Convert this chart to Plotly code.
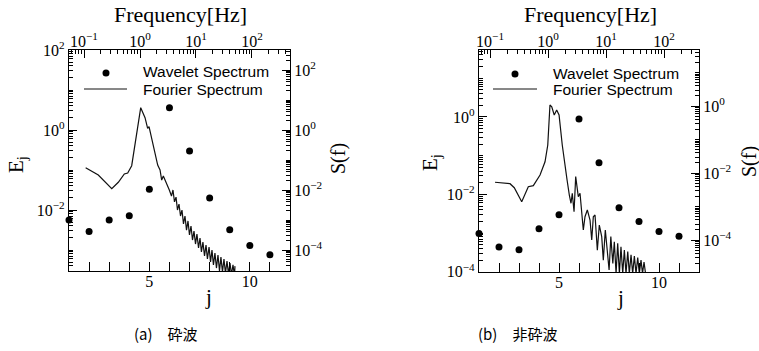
import plotly.graph_objects as go

# ---------------- data ----------------
j_vals = [1, 2, 3, 4, 5, 6, 7, 8, 9, 10, 11]
E_breaking = [5.6e-3, 2.9e-3, 5.6e-3, 7.2e-3, 3.3e-2, 3.6, 0.30, 2.0e-2, 3.2e-3, 1.3e-3, 7.6e-4]
E_nonbreaking = [9.8e-4, 4.4e-4, 3.7e-4, 1.3e-3, 3.0e-3, 0.89, 6.6e-2, 4.5e-3, 2.0e-3, 1.1e-3, 8.3e-4]

f_breaking = [0.107, 0.180, 0.313, 0.410, 0.525, 0.603, 0.711, 0.849, 1.03, 1.23, 1.37, 1.45, 1.66,
              1.85, 2.07, 2.28, 2.44, 2.61, 3.00, 3.34,
              3.65, 3.88, 4.13, 4.40, 4.67, 4.97, 5.29, 5.62, 5.98, 6.36,
              6.77, 7.20, 7.65, 8.14, 8.66, 9.21, 9.80, 10.4, 11.1, 11.8,
              12.5, 13.3, 14.2, 15.1, 16.0, 17.1, 18.2, 19.3, 20.5, 21.8,
              23.2, 24.7, 26.3, 27.9, 29.7, 31.6, 33.6, 35.8, 38.0, 40.5,
              43.0, 45.8, 48.7, 49.7]
S_breaking = [0.0553, 0.0316, 0.0110, 0.0181, 0.0341, 0.0369, 0.0646, 0.529, 5.54, 2.57, 1.14, 1.29, 0.407,
              0.147, 0.0681, 0.0464, 0.0215, 0.0293, 0.0167, 0.0100,
              6.3e-3, 1.0e-2, 4.0e-3, 5.8e-3, 2.15e-3, 3.4e-3, 1.36e-3, 2.15e-3, 7.4e-4, 1.36e-3,
              4.6e-4, 9.3e-4, 3.16e-4, 6.3e-4, 2.15e-4, 4.3e-4, 1.58e-4, 3.4e-4, 1.17e-4, 2.5e-4,
              8.6e-5, 1.85e-4, 6.3e-5, 1.47e-4, 5.0e-5, 1.26e-4, 4.0e-5, 1.0e-4, 3.16e-5, 7.9e-5,
              2.5e-5, 6.8e-5, 2.0e-5, 5.8e-5, 1.85e-5, 5.0e-5, 1.7e-5, 4.3e-5, 1.6e-5, 3.7e-5,
              1.5e-5, 3.2e-5, 1.4e-5, 2.9e-5]

f_nonbreaking = [0.122, 0.221, 0.262, 0.352, 0.457, 0.558, 0.728, 0.888, 0.99, 1.08,
                 1.16, 1.28, 1.41, 1.55, 1.76, 1.96, 2.13, 2.33, 2.49, 2.62,
                 2.81, 3.00, 3.33, 3.56, 3.81, 4.06, 4.34, 4.76, 5.30, 5.67,
                 6.04, 6.46, 7.08, 7.66, 8.43, 8.98, 9.72, 10.5, 11.3, 12.1,
                 13.1, 13.9, 14.9, 15.9, 17.0, 18.1, 19.4, 20.7, 22.1, 23.7,
                 25.2, 27.0, 28.8, 30.8, 32.9, 35.2, 37.5, 40.1, 42.6, 45.2, 48.0]
S_nonbreaking = [5.3e-3, 4.8e-3, 3.64e-3, 1.39e-3, 3.9e-3, 4.2e-3, 8.7e-3, 0.0217, 0.0685, 1.07,
                 0.95, 0.539, 0.76, 0.539, 0.0685, 0.0154, 6.2e-3, 2.2e-3, 1.25e-3, 2.48e-3,
                 7.0e-4, 7.8e-3, 1.96e-3, 2.48e-3, 4.96e-4, 1.99e-4, 4.96e-4, 7.9e-4, 3.95e-4, 1.0e-4,
                 4.96e-4, 5.6e-4, 5.0e-5, 2.8e-4, 1.26e-4, 2.5e-5, 1.99e-4, 5.0e-5, 1.27e-5, 1.26e-4,
                 2.0e-5, 8.9e-5, 1.0e-5, 8.0e-5, 1.0e-5, 6.3e-5, 1.0e-5, 5.0e-5, 1.0e-5, 4.5e-5,
                 1.0e-5, 3.6e-5, 1.0e-5, 3.3e-5, 1.0e-5, 3.0e-5, 1.0e-5, 2.5e-5, 1.0e-5, 2.2e-5, 1.0e-5]

j_ticks = [1, 2, 3, 4, 5, 6, 7, 8, 9, 10, 11, 12]
j_tick_labels = ["", "", "", "", "5", "", "", "", "", "10", "", ""]

freq_ticks = [0.1, 1, 10, 100]
freq_tick_labels = ["10<sup>−1</sup>", "10<sup>0</sup>", "10<sup>1</sup>", "10<sup>2</sup>"]
pow_ticks = [1e-4, 1e-2, 1, 100]
pow_tick_labels = ["10<sup>−4</sup>", "10<sup>−2</sup>", "10<sup>0</sup>", "10<sup>2</sup>"]

legend_labels = ["Wavelet Spectrum", "Fourier Spectrum"]
captions = ["(a)　砕波", "(b)　非砕波"]

# ---------------- layout helpers ----------------
W, H = 759, 351
def px(x):
    return x / W
def py(y):
    return 1 - y / H

SERIF = "Times New Roman"
SANS = "Liberation Sans"
CJK = "Noto Sans CJK JP"

# minor log ticks (1..9 in every decade)
minor_positions = [m * 10.0 ** e for e in range(-6, 4) for m in range(1, 10)]
minor = dict(ticks="inside", ticklen=4, tickcolor="black", tickwidth=1,
             tickmode="array", tickvals=minor_positions, showgrid=False)
base = dict(showline=True, linecolor="black", linewidth=1.2, showgrid=False, zeroline=False,
            automargin=False, ticks="inside", tickcolor="black", tickwidth=1.2,
            tickfont=dict(family=SERIF, size=16, color="black"))

fig = go.Figure()

fig.add_trace(go.Scatter(x=j_vals, y=E_breaking, mode="markers", xaxis="x", yaxis="y",
                         marker=dict(color="black", size=7), cliponaxis=False, showlegend=False))
fig.add_trace(go.Scatter(x=j_vals, y=E_nonbreaking, mode="markers", xaxis="x2", yaxis="y2",
                         marker=dict(color="black", size=7), cliponaxis=False, showlegend=False))
fig.add_trace(go.Scatter(x=f_breaking, y=S_breaking, mode="lines", xaxis="x3", yaxis="y3",
                         line=dict(color="#111111", width=1.2), showlegend=False))
fig.add_trace(go.Scatter(x=f_nonbreaking, y=S_nonbreaking, mode="lines", xaxis="x4", yaxis="y4",
                         line=dict(color="#111111", width=1.2), showlegend=False))

panels = [
    ("x", "y", "x3", "y3", 69, 290, 50, 271, [-3.525, 2.0], [-1.268, 2.679], [-4.70, 2.667]),
    ("x2", "y2", "x4", "y4", 479, 699, 50, 272, [-4.005, 1.73], [-1.19, 2.603], [-4.955, 1.672]),
]

layout_axes = {}
for (xn, yn, fxn, syn, x0, x1, yt, yb, er, fr, sr) in panels:
    xk = "xaxis" + xn[1:]
    yk = "yaxis" + yn[1:]
    fxk = "xaxis" + fxn[1:]
    syk = "yaxis" + syn[1:]
    layout_axes[xk] = dict(base, domain=[px(x0), px(x1)], range=[1, 12], anchor=yn,
                           tickmode="array", tickvals=j_ticks, ticktext=j_tick_labels, ticklen=9,
                           ticklabelstandoff=-4)
    layout_axes[yk] = dict(base, domain=[py(yb), py(yt)], type="log", range=er, anchor=xn,
                           tickmode="array", tickvals=pow_ticks, ticktext=pow_tick_labels,
                           ticklen=8, minor=minor)
    layout_axes[fxk] = dict(base, overlaying=xn, side="top", anchor=yn, type="log", range=fr,
                            tickmode="array", tickvals=freq_ticks, ticktext=freq_tick_labels,
                            ticklen=8, minor=minor, ticklabelstandoff=-4)
    layout_axes[syk] = dict(base, overlaying=yn, side="right", anchor=xn, type="log", range=sr,
                            tickmode="array", tickvals=pow_ticks, ticktext=pow_tick_labels,
                            ticklen=8, minor=minor)

annotations = []
shapes = []
def text(x, y, s, size, family, angle=0, xanchor="center"):
    annotations.append(dict(x=px(x), y=py(y), xref="paper", yref="paper", text=s, showarrow=False,
                            textangle=angle, xanchor=xanchor, yanchor="middle", borderpad=0,
                            font=dict(family=family, size=size, color="black")))

titles = [
    dict(ej=(17, 165), sf=(339, 159), j=(208, 297), fr=(180, 15), dot=(106, 73), line=(84, 127, 89), lt=142),
    dict(ej=(431, 163), sf=(749, 162), j=(620, 298), fr=(590, 14), dot=(515, 74), line=(493, 537, 89), lt=552),
]
for t in titles:
    text(*t["ej"], "E<sub>j</sub>", 21, SERIF, angle=-90)
    text(*t["sf"], "S(f)", 20, SERIF, angle=-90)
    text(*t["j"], "j", 21, SERIF)
    text(*t["fr"], "Frequency[Hz]", 22, SERIF)
    text(t["lt"], t["dot"][1] - 1, legend_labels[0], 15.5, SANS, xanchor="left")
    text(t["lt"], t["line"][2], legend_labels[1], 15.5, SANS, xanchor="left")
    dx, dy = t["dot"]
    shapes.append(dict(type="circle", xref="paper", yref="paper",
                       x0=px(dx - 3.5), x1=px(dx + 3.5), y0=py(dy + 3.5), y1=py(dy - 3.5),
                       fillcolor="black", line=dict(color="black", width=0)))
    lx0, lx1, ly = t["line"]
    shapes.append(dict(type="line", xref="paper", yref="paper",
                       x0=px(lx0), x1=px(lx1), y0=py(ly), y1=py(ly),
                       line=dict(color="#111111", width=1)))

text(133, 333, captions[0], 15, CJK, xanchor="left")
text(477, 333, captions[1], 15, CJK, xanchor="left")

fig.update_layout(template="none", width=W, height=H, margin=dict(l=0, r=0, t=0, b=0, pad=0),
                  paper_bgcolor="white", plot_bgcolor="white", showlegend=False,
                  font=dict(family=SERIF, color="black"),
                  annotations=annotations, shapes=shapes, **layout_axes)

fig.write_html("out.html", config={"displayModeBar": False},
               post_script="document.body.style.margin='0px';document.body.style.overflow='hidden';")
